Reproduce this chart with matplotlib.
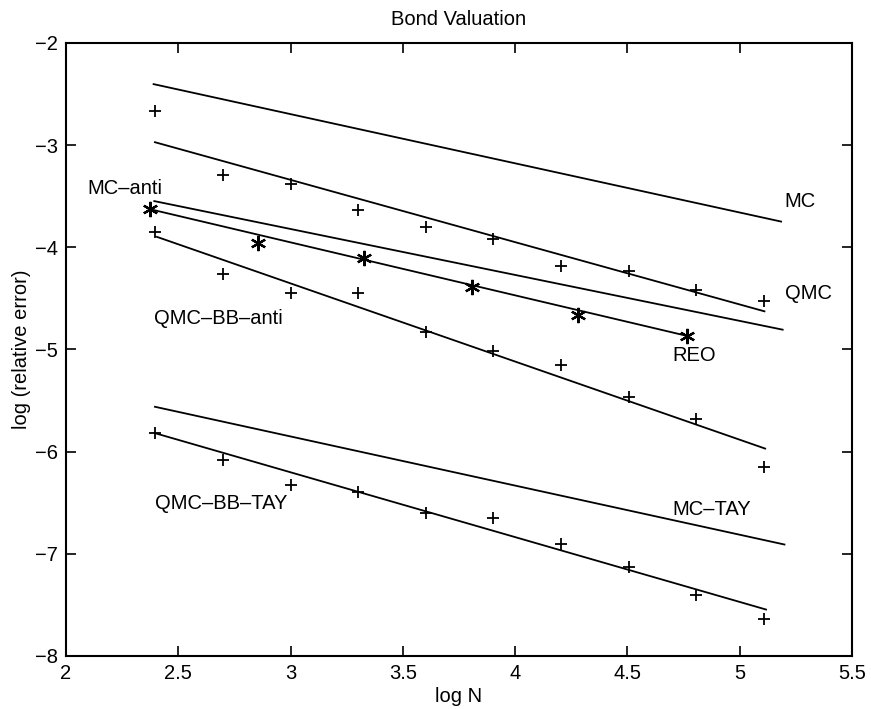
import matplotlib
matplotlib.use("Agg")
import matplotlib.pyplot as plt

plt.rcParams['font.family'] = ['Liberation Sans', 'DejaVu Sans']

# ---- data ----
log_n = [2.398, 2.699, 3.000, 3.301, 3.602, 3.903, 4.204, 4.505, 4.806, 5.107]
qmc_pts = [-2.665, -3.292, -3.380, -3.634, -3.797, -3.921, -4.182, -4.228, -4.417, -4.521]
qmc_bb_anti_pts = [-3.846, -4.260, -4.443, -4.449, -4.825, -5.011, -5.151, -5.467, -5.679, -6.152]
qmc_bb_tay_pts = [-5.813, -6.080, -6.325, -6.400, -6.596, -6.645, -6.902, -7.130, -7.408, -7.639]

reo_x = [2.374, 2.857, 3.329, 3.807, 4.282, 4.765]
reo_pts = [-3.624, -3.960, -4.107, -4.385, -4.664, -4.867]

# fitted lines: (x_start, x_end), (y_start, y_end)
mc_line_x = [2.386, 5.188]
mc_line_y = [-2.401, -3.750]
qmc_line_x = [2.392, 5.114]
qmc_line_y = [-2.969, -4.629]
mc_anti_line_x = [2.389, 5.195]
mc_anti_line_y = [-3.546, -4.808]
reo_line_x = [2.374, 4.765]
reo_line_y = [-3.627, -4.867]
qmc_bb_anti_line_x = [2.401, 5.117]
qmc_bb_anti_line_y = [-3.895, -5.973]
mc_tay_line_x = [2.392, 5.203]
mc_tay_line_y = [-5.559, -6.911]
qmc_bb_tay_line_x = [2.396, 5.121]
qmc_bb_tay_line_y = [-5.819, -7.548]

labels = ["MC", "QMC", "MC\u2013anti", "QMC\u2013BB\u2013anti", "REO", "MC\u2013TAY", "QMC\u2013BB\u2013TAY"]
label_x = [5.20, 5.20, 2.095, 2.392, 4.701, 4.701, 2.396]
label_y = [-3.553, -4.449, -3.422, -4.694, -5.063, -6.569, -6.504]

x_ticks = [2, 2.5, 3, 3.5, 4, 4.5, 5, 5.5]
x_tick_labels = ["2", "2.5", "3", "3.5", "4", "4.5", "5", "5.5"]
y_ticks = [-8, -7, -6, -5, -4, -3, -2]

# ---- figure ----
fig = plt.figure(figsize=(8.71, 7.09), dpi=100)
ax = fig.add_axes([0.0758, 0.0748, 0.9024, 0.8646])

lw = 1.3
for lx, ly in [(mc_line_x, mc_line_y), (qmc_line_x, qmc_line_y),
               (mc_anti_line_x, mc_anti_line_y), (reo_line_x, reo_line_y),
               (qmc_bb_anti_line_x, qmc_bb_anti_line_y),
               (mc_tay_line_x, mc_tay_line_y),
               (qmc_bb_tay_line_x, qmc_bb_tay_line_y)]:
    ax.plot(lx, ly, color='black', lw=lw, solid_capstyle='butt')

for pts in [qmc_pts, qmc_bb_anti_pts, qmc_bb_tay_pts]:
    ax.plot(log_n, pts, linestyle='none', marker='+', color='black',
            markersize=9, markeredgewidth=1.3)

ax.plot(reo_x, reo_pts, linestyle='none', marker=(6, 2, 0), color='black',
        markersize=11, markeredgewidth=1.6)

fs = 14.5
for t, tx, ty in zip(labels, label_x, label_y):
    ax.text(tx, ty, t, ha='left', va='center', fontsize=fs, color='black')

ax.set_xlim(2, 5.5)
ax.set_ylim(-8, -2)
ax.set_xticks(x_ticks)
ax.set_xticklabels(x_tick_labels)
ax.set_yticks(y_ticks)
ax.tick_params(direction='in', length=7, width=1.2, top=True, right=True,
               labelsize=fs)
ax.tick_params(axis='x', pad=6)
ax.tick_params(axis='y', pad=6)
for s in ax.spines.values():
    s.set_linewidth(1.5)

ax.set_title("Bond Valuation", fontsize=fs, pad=13)
ax.set_xlabel("log N", fontsize=fs, labelpad=3)
ax.set_ylabel("log (relative error)", fontsize=fs, labelpad=3)

fig.savefig("out.png", dpi=100)
